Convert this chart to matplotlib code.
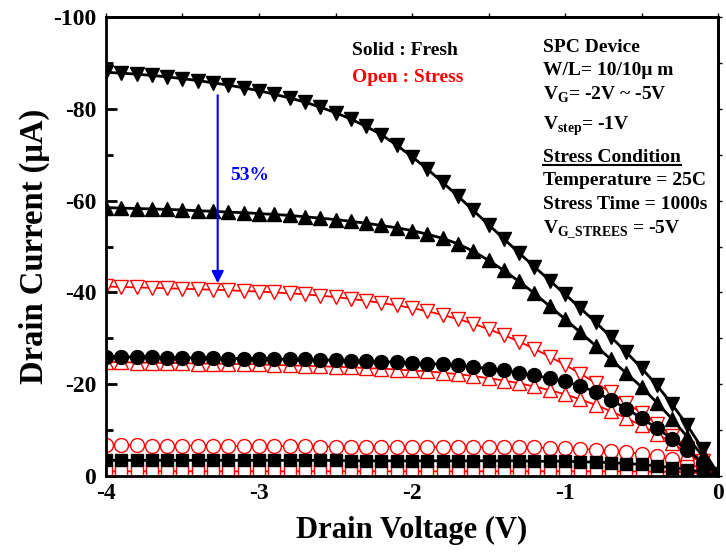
import numpy as np
import matplotlib
matplotlib.use('Agg')
import matplotlib.pyplot as plt
from matplotlib.ticker import MultipleLocator

plt.rcParams['font.family'] = ['Liberation Serif', 'DejaVu Serif']
plt.rcParams['font.weight'] = 'bold'
plt.rcParams['mathtext.fontset'] = 'custom'
plt.rcParams['mathtext.rm'] = 'Liberation Serif:bold'
plt.rcParams['mathtext.bf'] = 'Liberation Serif:bold'

# drain sweep, 0.1 V step
vd = np.round(np.arange(-40, 1) / 10, 1)

# fresh device, VG = -5, -4, -3, -2 V  (uA)
fresh_vg5 = [-88.0, -87.8, -87.6, -87.3, -87.0, -86.6, -86.2, -85.7, -85.2, -84.6,
             -84.0, -83.2, -82.4, -81.5, -80.4, -79.2, -77.8, -76.2, -74.4, -72.1,
             -69.6, -66.9, -64.0, -61.0, -57.9, -54.8, -51.7, -48.6, -45.6, -42.6,
             -39.6, -36.6, -33.5, -30.3, -27.0, -23.5, -19.8, -15.6, -11.0, -5.8, -0.5]
fresh_vg4 = [-58.5, -58.4, -58.3, -58.2, -58.1, -58.0, -57.8, -57.7, -57.5, -57.4,
             -57.2, -57.0, -56.8, -56.5, -56.2, -55.9, -55.5, -55.1, -54.6, -54.1,
             -53.5, -52.7, -51.8, -50.6, -49.0, -47.0, -44.8, -42.4, -39.8, -37.0,
             -34.2, -31.3, -28.4, -25.4, -22.4, -19.4, -16.0, -12.4, -8.5, -4.3, -0.3]
fresh_vg3 = [-26.0, -26.0, -25.9, -25.9, -25.8, -25.8, -25.7, -25.7, -25.6, -25.6,
             -25.5, -25.5, -25.4, -25.4, -25.3, -25.2, -25.1, -25.0, -24.9, -24.8,
             -24.7, -24.5, -24.3, -24.1, -23.8, -23.4, -23.0, -22.5, -21.9, -21.3,
             -20.6, -19.6, -18.3, -16.6, -14.7, -12.6, -10.4, -8.1, -5.6, -2.9, -0.2]
fresh_vg2 = [-3.4, -3.4, -3.4, -3.4, -3.4, -3.4, -3.4, -3.4, -3.4, -3.4,
             -3.4, -3.4, -3.4, -3.4, -3.4, -3.4, -3.3, -3.3, -3.3, -3.3,
             -3.3, -3.3, -3.3, -3.3, -3.3, -3.3, -3.3, -3.3, -3.2, -3.2,
             -3.2, -3.1, -3.0, -2.9, -2.7, -2.5, -2.2, -1.8, -1.4, -0.8, -0.1]

# after 1000 s stress at VG = -5 V
stress_vg5 = [-41.3, -41.2, -41.1, -41.0, -40.9, -40.8, -40.7, -40.6, -40.5, -40.3,
              -40.2, -40.0, -39.8, -39.6, -39.3, -39.0, -38.6, -38.2, -37.7, -37.2,
              -36.6, -35.9, -35.1, -34.2, -33.2, -32.0, -30.7, -29.3, -27.7, -26.0,
              -24.2, -22.3, -20.3, -18.2, -16.0, -13.7, -11.3, -8.8, -6.1, -3.2, -0.3]
stress_vg4 = [-24.8, -24.8, -24.7, -24.7, -24.6, -24.6, -24.5, -24.5, -24.4, -24.4,
              -24.3, -24.2, -24.1, -24.0, -23.9, -23.8, -23.7, -23.5, -23.4, -23.2,
              -23.0, -22.8, -22.5, -22.2, -21.8, -21.3, -20.8, -20.2, -19.5, -18.7,
              -17.8, -16.7, -15.5, -14.1, -12.6, -11.0, -9.2, -7.2, -5.0, -2.6, -0.2]
stress_vg3 = [-6.7, -6.7, -6.7, -6.6, -6.6, -6.6, -6.6, -6.6, -6.5, -6.5,
              -6.5, -6.5, -6.5, -6.5, -6.4, -6.4, -6.4, -6.4, -6.4, -6.4,
              -6.4, -6.3, -6.3, -6.3, -6.3, -6.3, -6.3, -6.2, -6.2, -6.1,
              -6.0, -5.9, -5.7, -5.5, -5.2, -4.8, -4.3, -3.6, -2.7, -1.6, -0.3]
stress_vg2 = [-1.0, -1.0, -1.0, -1.0, -1.0, -1.0, -1.0, -1.0, -1.0, -1.0,
              -1.0, -1.0, -1.0, -1.0, -1.0, -1.0, -1.0, -1.0, -1.0, -1.0,
              -1.0, -1.0, -1.0, -1.0, -1.0, -1.0, -1.0, -1.0, -1.0, -1.0,
              -1.0, -1.0, -1.0, -1.0, -1.0, -1.0, -0.9, -0.9, -0.8, -0.5, -0.1]

# degradation arrow (V, uA)
arrow_x = -3.27
arrow_from = -83.0
arrow_to = -42.0

xticks = [-4, -3, -2, -1, 0]
yticks = [0, -20, -40, -60, -80, -100]

fig = plt.figure(figsize=(7.26, 5.56), dpi=100)
ax = fig.add_axes([0.146, 0.144, 0.843, 0.825])

# stress curves first, fresh on top
ax.plot(vd, stress_vg2, 's-', color='red', mfc='white', mec='red', ms=9, mew=1.0, lw=1.3)
ax.plot(vd, stress_vg3, 'o-', color='red', mfc='white', mec='red', ms=10, mew=1.0, lw=1.3)
ax.plot(vd, stress_vg4, '^-', color='red', mfc='white', mec='red', ms=10.5, mew=1.0, lw=1.3)
ax.plot(vd, stress_vg5, 'v-', color='red', mfc='white', mec='red', ms=10.5, mew=1.0, lw=1.3)

ax.plot(vd, fresh_vg2, 's-', color='black', ms=9, lw=2)
ax.plot(vd, fresh_vg3, 'o-', color='black', ms=10, lw=2)
ax.plot(vd, fresh_vg4, '^-', color='black', ms=10.5, lw=2)
ax.plot(vd, fresh_vg5, 'v-', color='black', ms=10.5, lw=2)

ax.annotate('', xy=(arrow_x, arrow_to), xytext=(arrow_x, arrow_from),
            arrowprops=dict(arrowstyle='-|>', color='blue', lw=1.5,
                            mutation_scale=18, shrinkA=0, shrinkB=0))
ax.text(-3.19, -65.5, '53%', color='blue', fontsize=14, fontweight='bold', va='center')

ax.set_xlim(-4, 0)
ax.set_ylim(0, -100)
ax.set_xticks(xticks)
ax.set_xticklabels([str(v) for v in xticks])
ax.set_yticks(yticks)
ax.set_yticklabels([str(v) for v in yticks])
ax.yaxis.set_minor_locator(MultipleLocator(10))
ax.xaxis.set_minor_locator(MultipleLocator(0.5))
ax.tick_params(which='both', direction='in', width=2, labelsize=17)
ax.tick_params(axis='y', pad=7)
ax.tick_params(axis='x', pad=5)
ax.tick_params(which='major', length=8)
ax.tick_params(which='minor', length=5)
for s in ax.spines.values():
    s.set_linewidth(2)
for lab in ax.get_xticklabels() + ax.get_yticklabels():
    lab.set_fontweight('bold')

# short outward ticks on the opposite frame edges
top = ax.secondary_xaxis('top')
top.set_xticks(xticks)
top.xaxis.set_minor_locator(MultipleLocator(0.5))
top.tick_params(which='both', direction='out', length=3, width=1, labeltop=False)
right = ax.secondary_yaxis('right')
right.set_yticks(yticks)
right.yaxis.set_minor_locator(MultipleLocator(10))
right.tick_params(which='both', direction='out', length=3, width=1, labelright=False)
for sec in (top, right):
    for s in sec.spines.values():
        s.set_linewidth(2)

ax.set_xlabel('Drain Voltage (V)', fontsize=22, fontweight='bold', labelpad=9)
ax.set_ylabel('Drain Current (μA)', fontsize=23.5, fontweight='bold', labelpad=2)

ax.text(0.402, 0.917, 'Solid : Fresh', transform=ax.transAxes, fontsize=14,
        color='black', va='baseline')
ax.text(0.402, 0.858, 'Open : Stress', transform=ax.transAxes, fontsize=14,
        color='red', va='baseline')

info = ['SPC Device', 'W/L= 10/10μ m', r'V$_{\mathrm{G}}$= -2V ~ -5V',
        r'V$_{\mathrm{step}}$= -1V', 'Stress Condition', 'Temperature = 25C',
        'Stress Time = 1000s', r'V$_{\mathrm{G\_STREES}}$ = -5V']
info_y = [0.925, 0.873, 0.820, 0.755, 0.685, 0.635, 0.583, 0.528]
x0 = 0.714
txts = []
for s, yy in zip(info, info_y):
    txts.append(ax.text(x0, yy, s, transform=ax.transAxes, fontsize=14, va='baseline'))

# underline the stress heading
fig.canvas.draw()
bb = txts[4].get_window_extent().transformed(ax.transAxes.inverted())
ax.plot([bb.x0, bb.x1], [0.677, 0.677], color='black', lw=1.5,
        transform=ax.transAxes, clip_on=False)

fig.savefig('out.png', dpi=100)
